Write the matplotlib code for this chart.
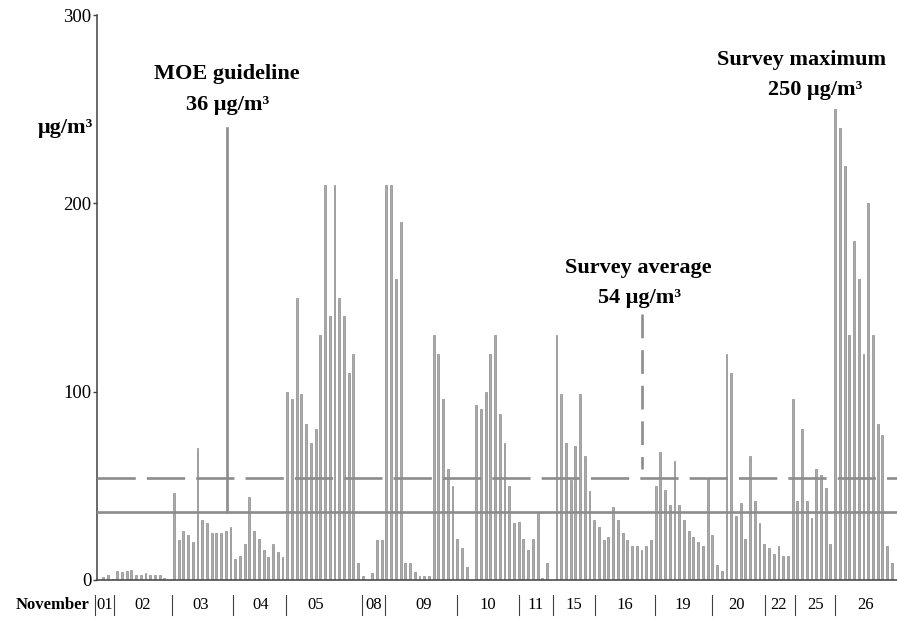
import matplotlib
matplotlib.use("Agg")
import matplotlib.pyplot as plt
import matplotlib.transforms as mtransforms

plt.rcParams['font.family'] = ['Liberation Serif', 'DejaVu Serif']

# concentration readings (ug/m3), in survey order
conc = [
    1.8, 2.8, 0.4,                                                    # 01
    4.8, 4.4, 5.0, 5.3, 2.8, 2.8, 3.5, 2.5, 2.5, 2.5, 0.9, 0,          # 02
    46, 21, 26, 24, 20, 70, 32, 30, 25, 25, 25, 26, 28,               # 03
    11, 13, 19, 44, 26, 22, 16, 12, 19, 15, 12,                       # 04
    100, 96, 150, 99, 83, 73, 80, 130, 210, 140, 210, 150, 140, 110, 120, 9,  # 05
    2, 0, 3.5, 21, 21,                                                # 08
    210, 210, 160, 190, 9, 9, 4, 2, 2, 2, 130, 120, 96, 59, 50,       # 09
    22, 17, 7, 0, 93, 91, 100, 120, 130, 88, 73, 50, 30,              # 10
    31, 22, 16, 22, 36, 1, 9, 0,                                      # 11
    130, 99, 73, 53, 71, 99, 66, 47,                                  # 15
    32, 28, 21, 23, 39, 32, 25, 21, 18, 18, 16, 18, 21,               # 16
    50, 68, 48, 40, 63, 40, 32, 26, 23, 20, 18, 54,                   # 19
    24, 8, 5, 120, 110, 34, 41, 22, 66, 42, 30,                       # 20
    19, 17, 14, 18, 13, 13,                                           # 22
    96, 42, 80, 42, 33, 59, 56, 49, 19,                               # 25
    250, 240, 220, 130, 180, 160, 120, 200, 130, 83, 77, 18, 9,       # 26
]

day_labels = ['01', '02', '03', '04', '05', '08', '09', '10', '11', '15',
              '16', '19', '20', '22', '25', '26']
day_label_pos = [0.3, 8.3, 20.6, 33.3, 45.0, 57.3, 67.9, 81.4, 91.6, 99.7,
                 110.5, 122.8, 134.2, 143.1, 150.8, 161.4]
day_breaks = [-1.8, 2.4, 14.6, 27.6, 38.8, 54.9, 59.8, 74.9, 88.0, 95.2,
              104.1, 116.9, 128.9, 140.2, 146.5, 155.0]

moe_guideline = 36
survey_average = 54
survey_maximum = 250

fig = plt.figure(figsize=(8.97, 6.18), dpi=100)
ax = fig.add_axes([0.108, 0.0615, 0.892, 0.9142])

x = list(range(len(conc)))
ax.bar(x, conc, width=0.40, color='#ababab', edgecolor='#8c8c8c', linewidth=0.5, zorder=2)

line_col = '#8c8c8c'
ax.axhline(moe_guideline, color=line_col, lw=1.9, zorder=3)
ax.axhline(survey_average, color=line_col, lw=1.9, dashes=(14.5, 4.2), zorder=3)

# annotation pointers
ax.plot([26.3, 26.3], [moe_guideline, 240], color=line_col, lw=1.9, zorder=3)
ax.plot([114.2, 114.2], [141, 59], color=line_col, lw=1.9, dashes=(9, 4.5), zorder=3)

bold = dict(fontsize=16, fontweight='bold', ha='center', va='center')
ax.text(26.3, 268.5, 'MOE guideline', **bold)
ax.text(26.3, 252, '36 \u03bcg/m\u00b3', **bold)
ax.text(113.3, 165.7, 'Survey average', **bold)
ax.text(113.6, 149.8, '54 \u03bcg/m\u00b3', **bold)
ax.text(147.8, 276, 'Survey maximum', **bold)
ax.text(150.8, 260, '250 \u03bcg/m\u00b3', **bold)

fig.text(0.073, 0.793, '\u03bcg/m\u00b3', fontsize=16, fontweight='bold', ha='center', va='center')

ax.set_xlim(-1.3, 168.1)
ax.set_ylim(0, 300)
ax.set_yticks([0, 100, 200, 300])
ax.tick_params(axis='y', labelsize=13.5, length=3, width=1, color='#404040', pad=1)
ax.set_xticks([])
for s in ['top', 'right']:
    ax.spines[s].set_visible(False)
for s in ['left', 'bottom']:
    ax.spines[s].set_color('#404040')
    ax.spines[s].set_linewidth(1.1)

# day labels under the axis
trans = mtransforms.blended_transform_factory(ax.transData, ax.transAxes)
for b in day_breaks:
    ax.plot([b, b], [-0.026, -0.062], color='#404040', lw=0.8, transform=trans, clip_on=False)
for lab, p in zip(day_labels, day_label_pos):
    ax.text(p, -0.044, lab, fontsize=12, ha='center', va='center', transform=trans)
fig.text(0.059, 0.021, 'November', fontsize=12, fontweight='bold', ha='center', va='center')

fig.savefig('out.png', dpi=100)
